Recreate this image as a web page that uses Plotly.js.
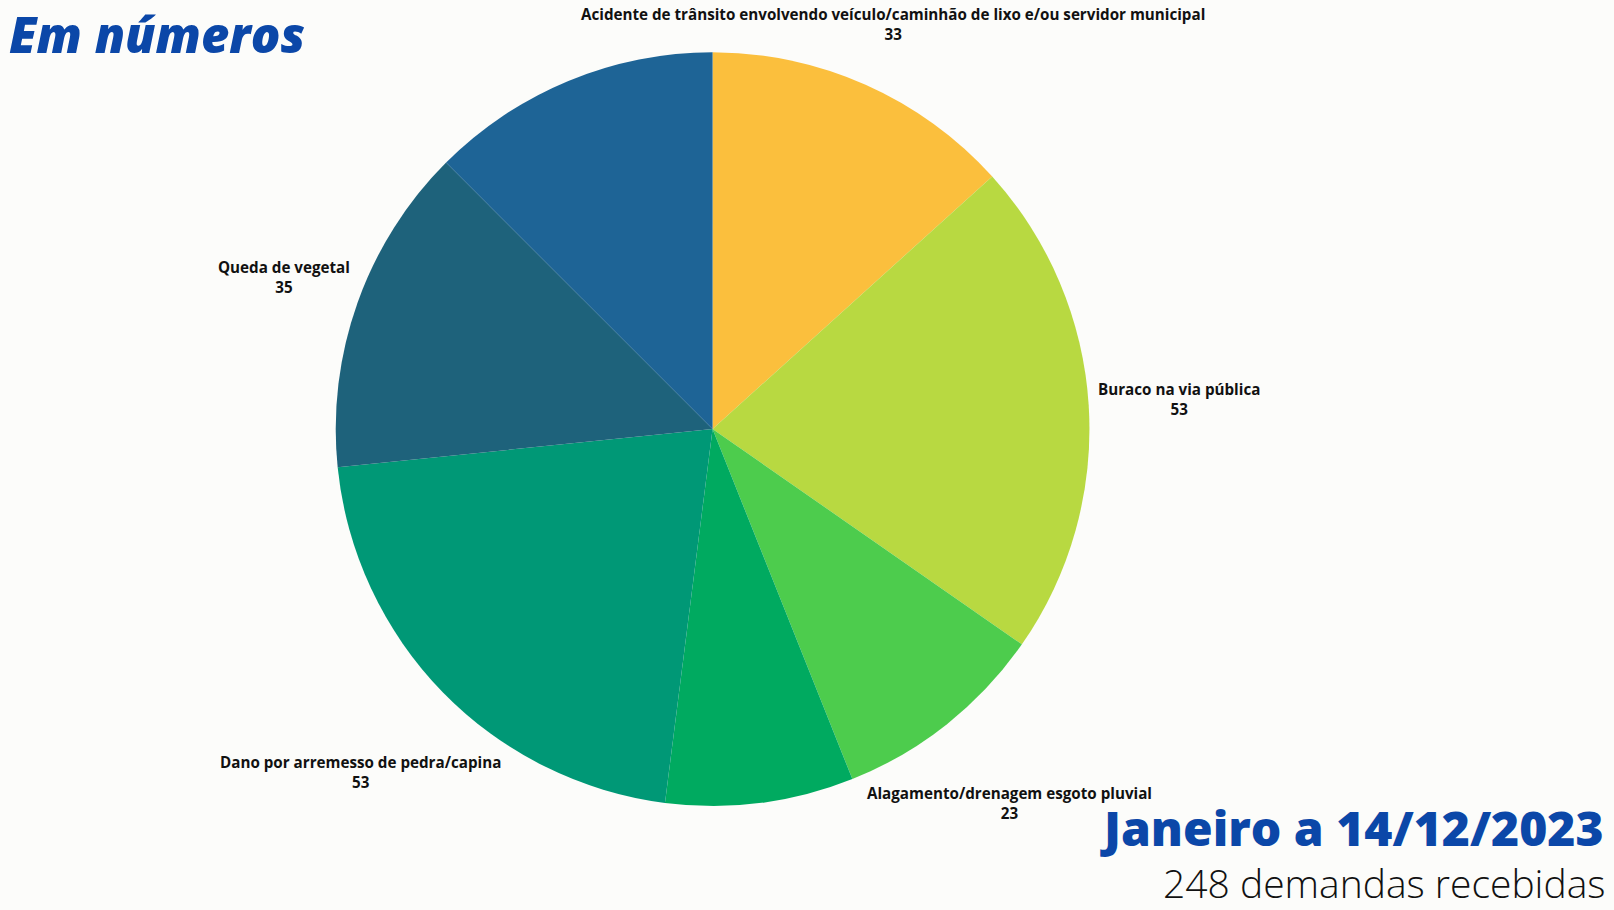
<!DOCTYPE html>
<html>
<head>
<meta charset="utf-8">
<script src="https://cdn.plot.ly/plotly-3.0.1.min.js"></script>
<style>
html,body{margin:0;padding:0;background:#FCFCFA;}
#chart{width:1614px;height:910px;}
</style>
</head>
<body>
<div id="chart"></div>
<script>
// Categories (clockwise from 12 o'clock)
const categories = [
  "Acidente de trânsito envolvendo veículo/caminhão de lixo e/ou servidor municipal",
  "Buraco na via pública",
  "Alagamento/drenagem esgoto pluvial",
  "Outros (sem rótulo) A",
  "Dano por arremesso de pedra/capina",
  "Queda de vegetal",
  "Outros (sem rótulo) B"
];
const values = [33, 53, 23, 20, 53, 35, 31];
const showLabel = [true, true, true, false, true, true, false];
const colors = ["#FBBF3D", "#B8D941", "#4DCC4D", "#00AA60", "#009876", "#1E627B", "#1E6496"];

const titleText = "Em números";
const periodText = "Janeiro a 14/12/2023";
const totalText = "248 demandas recebidas";

const W = 1614, H = 910;
const labelFont = {family: "Open Sans", size: 15.2, color: "#111111", weight: 700};
const LABEL_GAP = 7; // px between pie edge and nearest point of label box

const trace = {
  type: "pie",
  labels: categories,
  values: values,
  sort: false,
  direction: "clockwise",
  rotation: 0,
  marker: {colors: colors, line: {width: 0}},
  textinfo: "none",
  domain: {x: [0.208, 0.675], y: [0.114, 0.943]},
  hoverinfo: "label+value+percent",
  automargin: false
};

const fixedAnnotations = [
  {text: titleText, xref: "paper", yref: "paper", x: 0.005, y: 1, yshift: 0, borderpad: 0,
   xanchor: "left", yanchor: "top", showarrow: false,
   font: {family: "Open Sans", size: 49, color: "#0B47A8", weight: 800, style: "italic"}},
  {text: periodText, xref: "paper", yref: "paper", x: 0.995, y: 0.053,
   xanchor: "right", yanchor: "bottom", showarrow: false,
   font: {family: "Open Sans", size: 48, color: "#0B47A8", weight: 800}},
  {text: totalText, xref: "paper", yref: "paper", x: 0.995, y: 0, yshift: 0, borderpad: 0,
   xanchor: "right", yanchor: "bottom", showarrow: false,
   font: {family: "Open Sans", size: 39, color: "#111111", weight: 300}}
];

// slice labels, positioned later from the pie geometry
const total = values.reduce((a, b) => a + b, 0);
let cum = 0;
const labelAnns = [];
const labelDirs = [];
values.forEach((v, i) => {
  const mid = (cum + v / 2) / total * 2 * Math.PI; // clockwise from 12 o'clock
  cum += v;
  if (!showLabel[i]) return;
  labelDirs.push({ux: Math.sin(mid), uy: -Math.cos(mid)}); // screen coords (y down)
  labelAnns.push({text: categories[i] + "<br>" + values[i], xref: "paper", yref: "paper",
    x: 0.5, y: 0.5, xanchor: "center", yanchor: "middle", showarrow: false,
    align: "center", font: labelFont});
});

const layout = {
  width: W,
  height: H,
  paper_bgcolor: "#FCFCFA",
  plot_bgcolor: "#FCFCFA",
  margin: {l: 0, r: 0, t: 0, b: 0},
  showlegend: false,
  annotations: fixedAnnotations.concat(labelAnns)
};

const gd = document.getElementById("chart");
Plotly.newPlot(gd, [trace], layout, {displayModeBar: false, staticPlot: true}).then(() => {
  const cd0 = gd.calcdata[0][0];
  const cx = cd0.cx, cy = cd0.cy, R = cd0.r;
  const T = R + LABEL_GAP;
  const groups = gd.querySelectorAll(".annotation");
  const newAnns = layout.annotations.slice();
  labelAnns.forEach((a, k) => {
    const el = groups[fixedAnnotations.length + k];
    const bb = el.querySelector(".annotation-text-g").getBBox();
    const hw = bb.width / 2, hh = bb.height / 2;
    const {ux, uy} = labelDirs[k];
    const distAt = d => {
      const x = d * ux, y = d * uy;
      const dx = Math.max(Math.abs(x) - hw, 0);
      const dy = Math.max(Math.abs(y) - hh, 0);
      return Math.hypot(dx, dy);
    };
    let lo = 0, hi = R * 3;
    for (let it = 0; it < 60; it++) {
      const m = (lo + hi) / 2;
      if (distAt(m) < T) lo = m; else hi = m;
    }
    const px = cx + hi * ux, py = cy + hi * uy;
    newAnns[fixedAnnotations.length + k] = Object.assign({}, a, {x: px / W, y: 1 - py / H});
  });
  return Plotly.relayout(gd, {annotations: newAnns});
});
</script>
</body>
</html>
